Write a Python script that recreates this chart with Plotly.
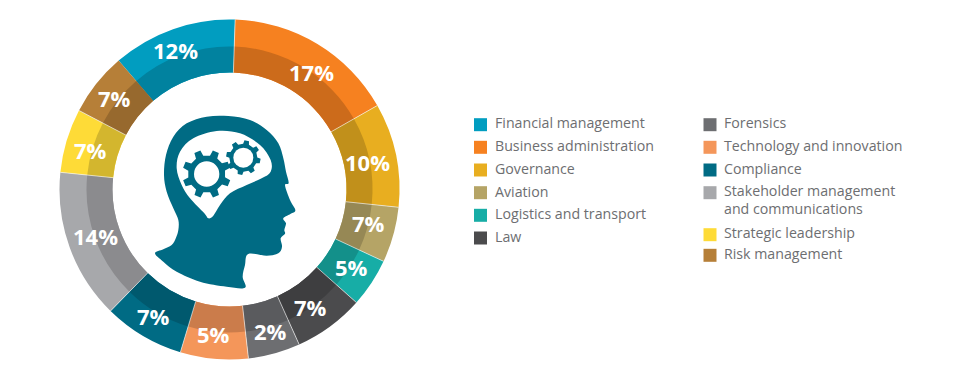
import math
import plotly.graph_objects as go

# ---- data ----
categories = ["Financial management", "Business administration", "Governance", "Aviation",
              "Logistics and transport", "Law", "Forensics", "Technology and innovation",
              "Compliance", "Stakeholder management<br>and communications",
              "Strategic leadership", "Risk management"]
percent_labels = ["12%", "17%", "10%", "7%", "5%", "7%", "2%", "5%", "7%", "14%", "7%", "7%"]
# drawn arc sizes in the picture (degrees) do not follow the printed percentages
arc_sizes = [42.6, 58.5, 35.6, 19.0, 16.7, 24.1, 17.8, 23.2, 27.6, 51.4, 21.9, 21.6]
colors = ["#019dc0", "#f68120", "#e8ae20", "#b5a466", "#17ada6", "#4b4b4d",
          "#6d6e71", "#f4965a", "#006b84", "#a7a8ab", "#fedb37", "#b67f38"]

# ---- layout constants ----
W, H = 970, 380
CX, CY, R_OUT, R_MID, R_IN = 229.5, 189.5, 170, 143, 117
START_ANGLE = 319.3
SHADE = 0.83
# label placement: radius and angle nudge relative to the slice middle
label_radius = [149.1, 143.2, 140.4, 142.9, 144.9, 143.2, 147.9, 146.4, 148, 142.5, 144, 146.9]
label_nudge = [-2, 3.9, 0.8, -1.8, -0.85, 1.6, -0.6, 1.2, 0.1, 0.6, -1.15, -0.1]

legend_rows = [
    (474, 124.7, 495.3, 122.5, 0), (474, 147.3, 495.3, 145.2, 1), (474, 170, 495.3, 168.2, 2),
    (474, 192.7, 495.3, 191.2, 3), (474, 215.3, 495.3, 213.7, 4), (474, 238, 495.3, 236.2, 5),
    (703.5, 124.7, 724.3, 122.5, 6), (703.5, 147.3, 724.3, 145.2, 7), (703.5, 170, 724.3, 168.2, 8),
    (703.5, 192.7, 724.3, 199.5, 9), (703.5, 234.7, 724.3, 232.9, 10), (703.5, 255.3, 724.3, 253.2, 11),
]


def shade(hex_color, k):
    r, g, b = (int(hex_color[i:i + 2], 16) for i in (1, 3, 5))
    return f"rgb({round(r * k)},{round(g * k)},{round(b * k)})"


def domain(radius):
    return dict(x=[(CX - radius) / W, (CX + radius) / W],
                y=[1 - (CY + radius) / H, 1 - (CY - radius) / H])


fig = go.Figure()
fig.add_trace(go.Pie(values=arc_sizes, labels=categories, sort=False, direction="clockwise",
                     rotation=START_ANGLE, hole=R_IN / R_OUT, domain=domain(R_OUT),
                     marker=dict(colors=colors, line=dict(width=0)),
                     textinfo="none", hoverinfo="label", showlegend=False))
fig.add_trace(go.Pie(values=arc_sizes, labels=categories, sort=False, direction="clockwise",
                     rotation=START_ANGLE, hole=R_IN / R_MID, domain=domain(R_MID),
                     marker=dict(colors=[shade(c, SHADE) for c in colors], line=dict(width=0)),
                     textinfo="none", hoverinfo="label", showlegend=False))

# legend swatches
fig.add_trace(go.Scatter(x=[r[0] + 6.5 for r in legend_rows], y=[r[1] for r in legend_rows],
                         mode="markers", hoverinfo="skip", showlegend=False,
                         marker=dict(symbol="square", size=13, color=[colors[r[4]] for r in legend_rows])))

annotations = []
separators = []
total = sum(arc_sizes)
angle = START_ANGLE
for i, size in enumerate(arc_sizes):
    sweep = size / total * 360
    mid = math.radians(angle + sweep / 2 + label_nudge[i])
    annotations.append(dict(x=CX + label_radius[i] * math.sin(mid),
                            y=CY - label_radius[i] * math.cos(mid),
                            text=percent_labels[i], showarrow=False, xanchor="center", yanchor="middle",
                            yshift=0.5,
                            font=dict(family="Open Sans", size=22, color="white", weight="bold")))
    if i != 0:  # no visible seam where the first slice starts
        a = math.radians(angle)
        separators.append(dict(type="line", x0=CX + R_IN * math.sin(a), y0=CY - R_IN * math.cos(a),
                               x1=CX + R_OUT * math.sin(a), y1=CY - R_OUT * math.cos(a),
                               line=dict(color="rgba(245,245,245,0.8)", width=0.8)))
    angle += sweep
legend_font = dict(family="Open Sans", size=14.2, color="#6d6e71")
for _, _, tx, ty, idx in legend_rows:
    annotations.append(dict(x=tx, y=ty, text=categories[idx], showarrow=False, xanchor="left",
                            align="left", yanchor="middle", xshift=-2, font=legend_font))


# ---- head icon (decoration, traced in a 3x crop) ----
def px(p):
    return 150 + p[0] / 3, 105 + p[1] / 3


def smooth(points):
    pts = [px(p) for p in points]
    n = len(pts)
    d = f"M{pts[0][0]:.2f},{pts[0][1]:.2f}"
    for i in range(n):
        p0, p1, p2, p3 = pts[i - 1], pts[i], pts[(i + 1) % n], pts[(i + 2) % n]
        c1 = (p1[0] + (p2[0] - p0[0]) / 6, p1[1] + (p2[1] - p0[1]) / 6)
        c2 = (p2[0] - (p3[0] - p1[0]) / 6, p2[1] - (p3[1] - p1[1]) / 6)
        d += f" C{c1[0]:.2f},{c1[1]:.2f} {c2[0]:.2f},{c2[1]:.2f} {p2[0]:.2f},{p2[1]:.2f}"
    return d + " Z"


def poly(points):
    pts = [px(p) for p in points]
    return "M" + " L".join(f"{x:.2f},{y:.2f}" for x, y in pts) + " Z"


def circle(c, r):
    x, y = px(c)
    r = r / 3
    return dict(type="circle", x0=x - r, x1=x + r, y0=y - r, y1=y + r, fillcolor="white", line_width=0)


def gear(c, r_out, r_body, teeth, phase):
    pts = []
    step = 2 * math.pi / teeth
    for k in range(teeth):
        a = phase + k * step
        for frac, r in ((-0.27, r_body), (-0.17, r_out), (0.17, r_out), (0.27, r_body)):
            t = a + frac * step
            pts.append((c[0] + r * math.sin(t), c[1] - r * math.cos(t)))
    return poly(pts)


head = [(15, 445), (40, 433), (65, 420), (78, 398), (85, 375), (85, 345), (70, 310), (50, 260), (42, 210),
        (48, 150), (70, 95), (110, 55), (170, 35), (235, 33), (300, 45), (350, 75), (385, 115),
        (400, 160), (408, 200), (416, 234), (405, 241), (420, 285), (436, 315), (425, 325), (400, 340),
        (408, 355), (403, 375), (405, 386), (392, 400), (396, 425), (385, 445), (350, 452), (295, 447),
        (285, 480), (278, 515), (285, 548), (230, 545), (150, 530), (80, 500), (40, 470)]
brain = [(200, 78), (270, 85), (330, 120), (362, 165), (362, 200), (335, 220), (290, 240), (240, 265),
         (210, 300), (190, 332), (175, 340), (163, 325), (120, 280), (95, 240), (80, 190), (90, 140), (130, 100)]
TEAL = "#006b84"
shapes = separators + [
    dict(type="path", path=smooth(head), fillcolor=TEAL, line_width=0),
    dict(type="path", path=smooth(brain), fillcolor="white", line_width=0),
    dict(type="path", path=gear((170, 207), 73, 56, 8, 0.39), fillcolor=TEAL, line_width=0),
    circle((170, 207), 38),
    dict(type="path", path=gear((280, 158), 52, 42, 8, 0.2), fillcolor=TEAL, line_width=0),
    circle((280, 158), 30),
]

fig.update_layout(
    width=W, height=H, margin=dict(l=0, r=0, t=0, b=0), autosize=False,
    paper_bgcolor="white", plot_bgcolor="rgba(0,0,0,0)", showlegend=False,
    xaxis=dict(range=[0, W], visible=False, fixedrange=True),
    yaxis=dict(range=[H, 0], visible=False, fixedrange=True),
    annotations=annotations, shapes=shapes,
)
fig.write_html("out.html", config={"displayModeBar": False},
               post_script="document.body.style.margin='0';document.documentElement.style.overflow='hidden';")
